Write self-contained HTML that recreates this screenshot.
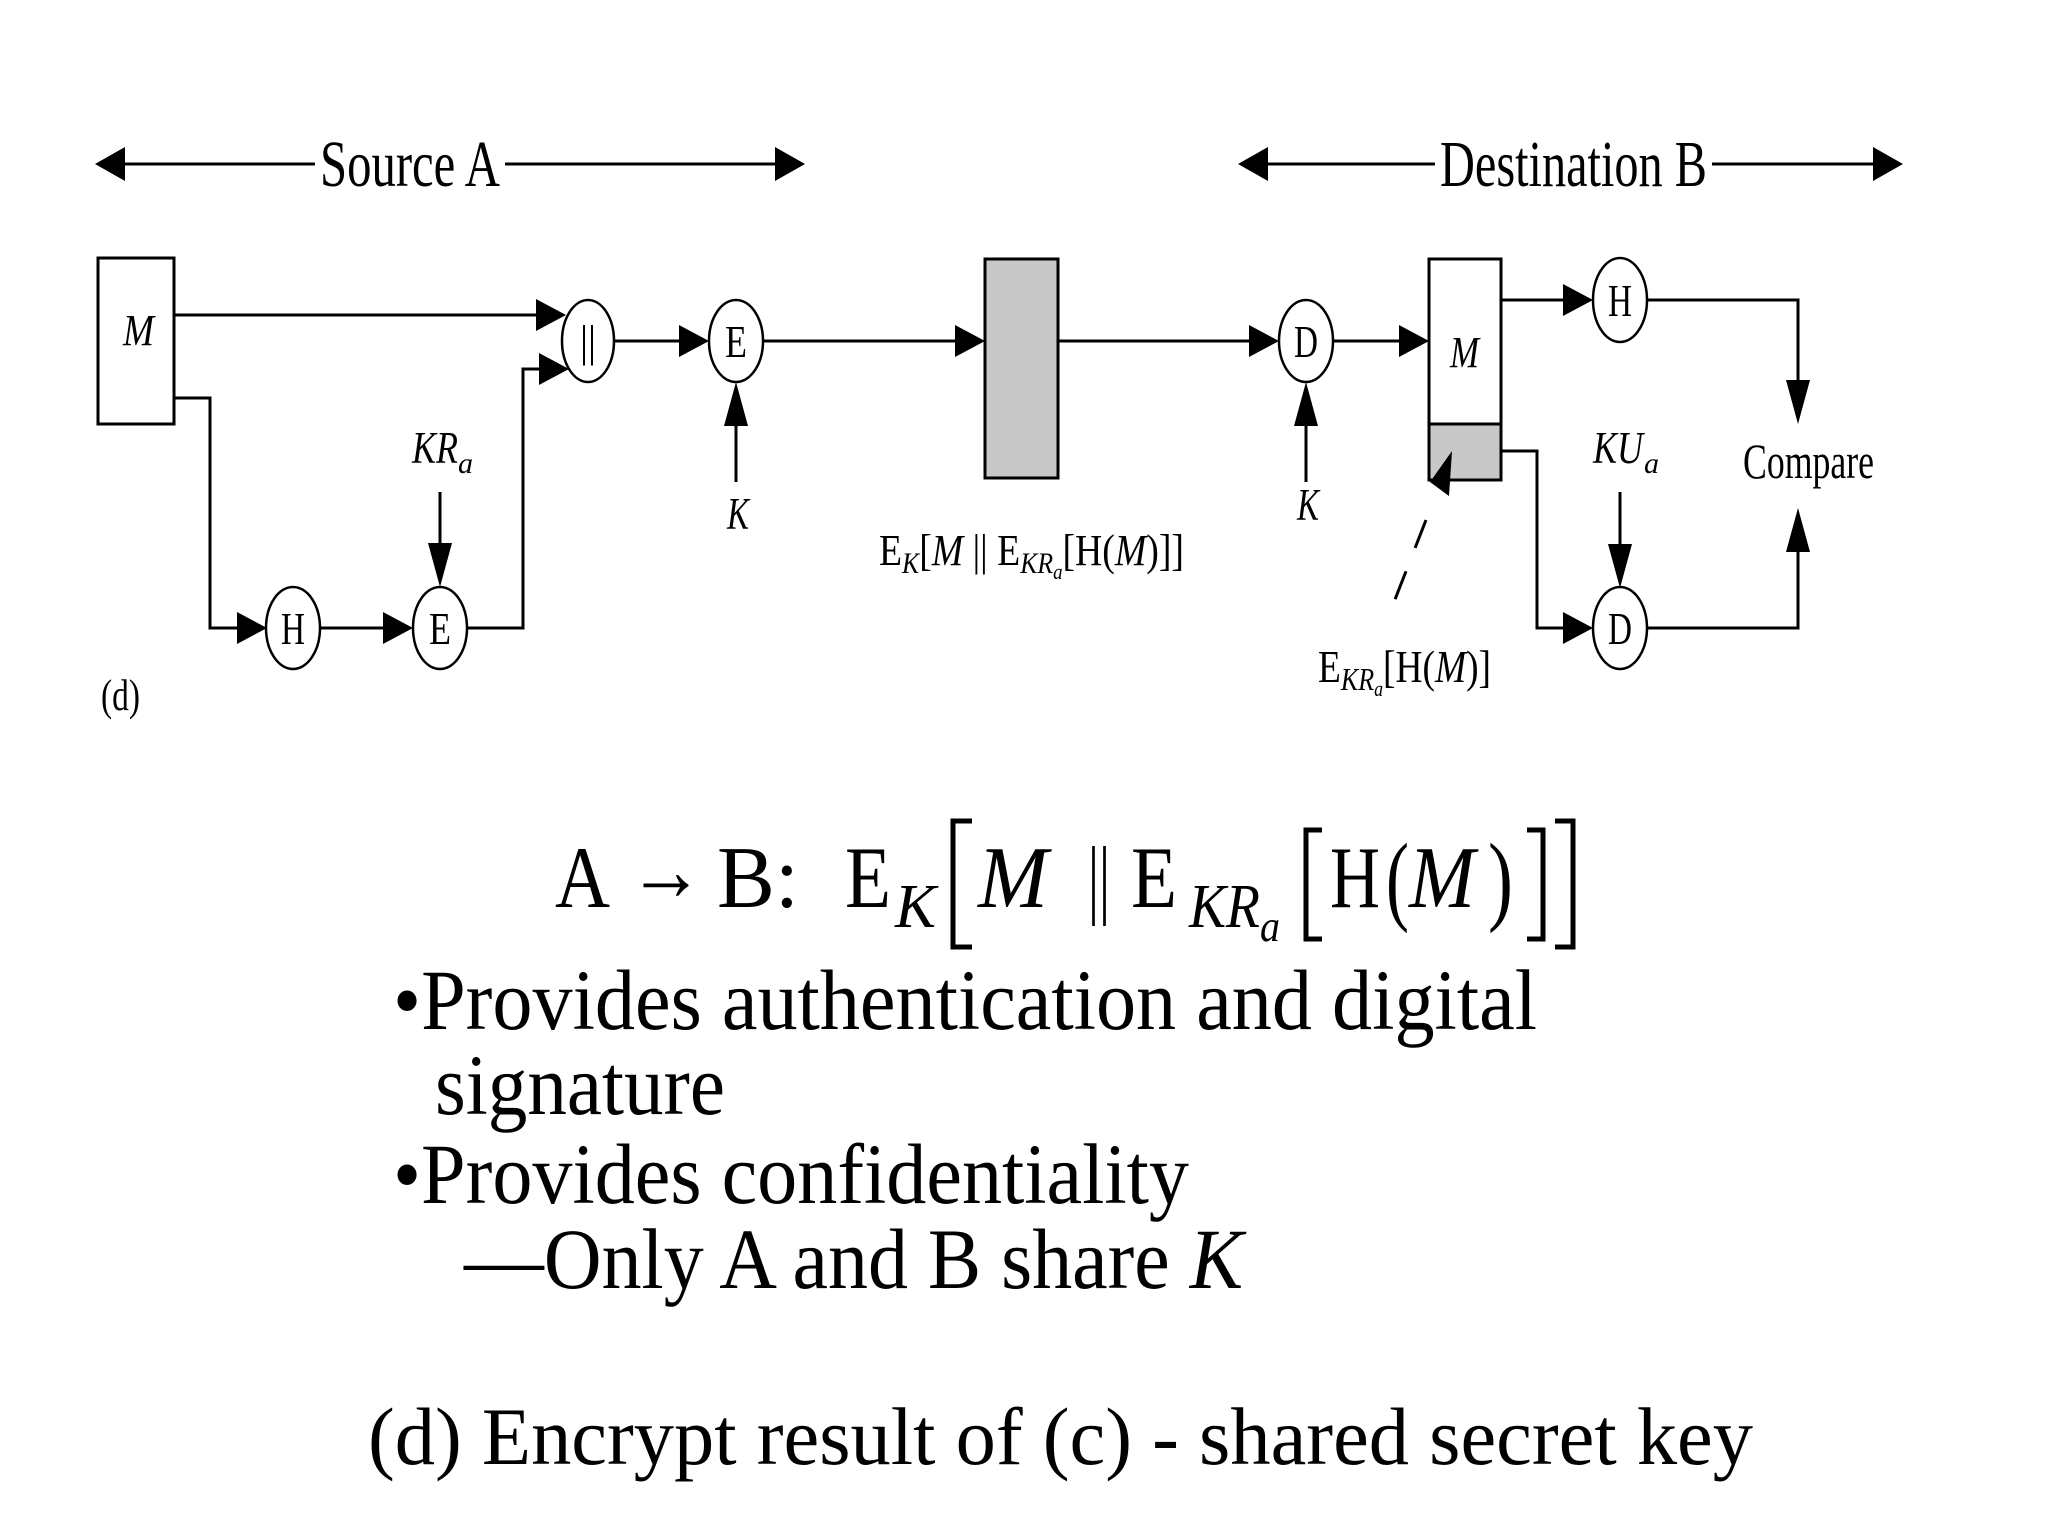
<!DOCTYPE html>
<html><head><meta charset="utf-8"><style>
html,body{margin:0;padding:0;background:#fff;}
svg{display:block;}
text{font-family:"Liberation Serif",serif;fill:#000;}
</style></head><body>
<svg width="2048" height="1536" viewBox="0 0 2048 1536" xmlns="http://www.w3.org/2000/svg">
<g stroke="#000" stroke-width="3" fill="none">
<line x1="110" y1="164" x2="315" y2="164"/><line x1="505" y1="164" x2="790" y2="164"/>
<line x1="1253" y1="164" x2="1435" y2="164"/><line x1="1712" y1="164" x2="1888" y2="164"/>
<rect x="98" y="258" width="76" height="166"/>
<line x1="174" y1="315" x2="540" y2="315"/>
<polyline points="174,398 210,398 210,628 240,628"/>
<line x1="320" y1="628" x2="386" y2="628"/>
<line x1="440" y1="492" x2="440" y2="550"/>
<polyline points="467,628 523,628 523,369 543,369"/>
<line x1="614" y1="341" x2="682" y2="341"/>
<line x1="736" y1="482" x2="736" y2="420"/>
<line x1="763" y1="341" x2="958" y2="341"/>
<line x1="1058" y1="341" x2="1252" y2="341"/>
<line x1="1306" y1="482" x2="1306" y2="420"/>
<line x1="1334" y1="341" x2="1402" y2="341"/>
<rect x="1429" y="259" width="72" height="165"/>
<rect x="1429" y="424" width="72" height="56" fill="#c8c8c8"/>
<line x1="1501" y1="300" x2="1566" y2="300"/>
<polyline points="1648,300 1798,300 1798,396"/>
<polyline points="1501,451 1537,451 1537,628 1566,628"/>
<line x1="1620" y1="492" x2="1620" y2="550"/>
<polyline points="1648,628 1798,628 1798,536"/>
<line x1="1426" y1="520" x2="1387" y2="620" stroke-dasharray="30,25"/>
<rect x="985" y="259" width="73" height="219" fill="#c8c8c8"/>
<g stroke-width="2.5" fill="#fff">
<ellipse cx="588" cy="341" rx="26" ry="41"/>
<ellipse cx="293" cy="628" rx="27" ry="41"/>
<ellipse cx="440" cy="628" rx="27" ry="41"/>
<ellipse cx="736" cy="341" rx="27" ry="41"/>
<ellipse cx="1306" cy="341" rx="27" ry="41"/>
<ellipse cx="1620" cy="300" rx="27" ry="42"/>
<ellipse cx="1620" cy="628" rx="27" ry="41"/>
</g>
</g>
<g fill="#000">
<polygon points="95,164 125,147 125,181"/><polygon points="805,164 775,147 775,181"/>
<polygon points="1238,164 1268,147 1268,181"/><polygon points="1903,164 1873,147 1873,181"/>
<polygon points="566,315 536,299 536,331"/>
<polygon points="267,628 237,612 237,644"/>
<polygon points="413,628 383,612 383,644"/>
<polygon points="569,369 539,353 539,385"/>
<polygon points="709,341 679,325 679,357"/>
<polygon points="985,341 955,325 955,357"/>
<polygon points="1279,341 1249,325 1249,357"/>
<polygon points="1429,341 1399,325 1399,357"/>
<polygon points="1593,300 1563,284 1563,316"/>
<polygon points="1593,628 1563,612 1563,644"/>
<polygon points="440,587 428,543 452,543"/>
<polygon points="1620,588 1608,544 1632,544"/>
<polygon points="1798,424 1786,380 1810,380"/>
<polygon points="736,382 724,426 748,426"/>
<polygon points="1306,382 1294,426 1318,426"/>
<polygon points="1798,508 1786,552 1810,552"/>
<polygon points="1430,482 1452,451 1449,496"/>
</g>
<text x="320" y="186" font-size="66" textLength="180" lengthAdjust="spacingAndGlyphs">Source A</text>
<text x="1440" y="186" font-size="66" textLength="267" lengthAdjust="spacingAndGlyphs">Destination B</text>
<text x="123" y="345" font-size="44" font-style="italic" textLength="31" lengthAdjust="spacingAndGlyphs">M</text>
<text x="580" y="356" font-size="44" textLength="16" lengthAdjust="spacingAndGlyphs">||</text>
<text x="281" y="644" font-size="46" textLength="24" lengthAdjust="spacingAndGlyphs">H</text>
<text x="429" y="644" font-size="46" textLength="22" lengthAdjust="spacingAndGlyphs">E</text>
<text x="725" y="357" font-size="46" textLength="22" lengthAdjust="spacingAndGlyphs">E</text>
<text x="1294" y="357" font-size="46" textLength="24" lengthAdjust="spacingAndGlyphs">D</text>
<text x="1608" y="316" font-size="46" textLength="24" lengthAdjust="spacingAndGlyphs">H</text>
<text x="1608" y="644" font-size="46" textLength="24" lengthAdjust="spacingAndGlyphs">D</text>
<text x="1450" y="367" font-size="44" font-style="italic" textLength="29" lengthAdjust="spacingAndGlyphs">M</text>
<text x="412" y="463" font-size="45" font-style="italic" textLength="46" lengthAdjust="spacingAndGlyphs">KR</text>
<text x="458" y="473" font-size="30" font-style="italic">a</text>
<text x="727" y="529" font-size="45" font-style="italic" textLength="22" lengthAdjust="spacingAndGlyphs">K</text>
<text x="1297" y="520" font-size="45" font-style="italic" textLength="22" lengthAdjust="spacingAndGlyphs">K</text>
<text x="1593" y="463" font-size="45" font-style="italic" textLength="50" lengthAdjust="spacingAndGlyphs">KU</text>
<text x="1644" y="473" font-size="30" font-style="italic">a</text>
<text x="1743" y="478" font-size="50" textLength="131" lengthAdjust="spacingAndGlyphs">Compare</text>
<text x="101" y="710" font-size="44" textLength="39" lengthAdjust="spacingAndGlyphs">(d)</text>
<text x="879" y="565" font-size="44" textLength="305" lengthAdjust="spacingAndGlyphs">E<tspan font-style="italic" font-size="30" dy="8">K</tspan><tspan dy="-8">[</tspan><tspan font-style="italic">M</tspan> || E<tspan font-style="italic" font-size="30" dy="8">KR</tspan><tspan font-style="italic" font-size="22" dy="6">a</tspan><tspan dy="-14">[H(</tspan><tspan font-style="italic">M</tspan>)]]</text>
<text x="1318" y="682" font-size="46" textLength="173" lengthAdjust="spacingAndGlyphs">E<tspan font-style="italic" font-size="32" dy="8">KR</tspan><tspan font-style="italic" font-size="22" dy="6">a</tspan><tspan dy="-14">[H(</tspan><tspan font-style="italic">M</tspan>)]</text>
<g font-size="88">
<text x="555" y="907" textLength="55" lengthAdjust="spacingAndGlyphs">A</text>
<text x="628" y="900" textLength="76" lengthAdjust="spacingAndGlyphs">→</text>
<text x="717" y="907" textLength="82" lengthAdjust="spacingAndGlyphs">B:</text>
<text x="845" y="907" textLength="46" lengthAdjust="spacingAndGlyphs">E</text>
<text x="895" y="927" font-style="italic" font-size="62" textLength="41" lengthAdjust="spacingAndGlyphs">K</text>
<text x="978" y="907" font-style="italic" textLength="70" lengthAdjust="spacingAndGlyphs">M</text>
<text x="1088" y="907" textLength="22" lengthAdjust="spacingAndGlyphs">||</text>
<text x="1131" y="907" textLength="46" lengthAdjust="spacingAndGlyphs">E</text>
<text x="1189" y="927" font-style="italic" font-size="62" textLength="71" lengthAdjust="spacingAndGlyphs">KR</text>
<text x="1260" y="941" font-style="italic" font-size="44" textLength="20" lengthAdjust="spacingAndGlyphs">a</text>
<text x="1330" y="907" textLength="50" lengthAdjust="spacingAndGlyphs">H</text>
<text x="1386" y="912" font-size="100" textLength="23" lengthAdjust="spacingAndGlyphs">(</text>
<text x="1409" y="907" font-style="italic" textLength="66" lengthAdjust="spacingAndGlyphs">M</text>
<text x="1488" y="912" font-size="100" textLength="25" lengthAdjust="spacingAndGlyphs">)</text>
</g>
<g stroke="#000" stroke-width="5" fill="none">
<polyline points="972,821 953,821 953,947 972,947"/>
<polyline points="1322,830 1306,830 1306,939 1322,939"/>
<polyline points="1527,830 1543,830 1543,939 1527,939"/>
<polyline points="1555,821 1573,821 1573,947 1555,947"/>
</g>
<g font-size="86">
<text x="393" y="1029" textLength="1144" lengthAdjust="spacingAndGlyphs">•Provides authentication and digital</text>
<text x="435" y="1114" textLength="290" lengthAdjust="spacingAndGlyphs">signature</text>
<text x="393" y="1203" textLength="796" lengthAdjust="spacingAndGlyphs">•Provides confidentiality</text>
<text x="464" y="1288" textLength="779" lengthAdjust="spacingAndGlyphs">—Only A and B share <tspan font-style="italic">K</tspan></text>
<text x="368" y="1464" font-size="82" textLength="1385" lengthAdjust="spacingAndGlyphs">(d) Encrypt result of (c) - shared secret key</text>
</g>
</svg>
</body></html>
